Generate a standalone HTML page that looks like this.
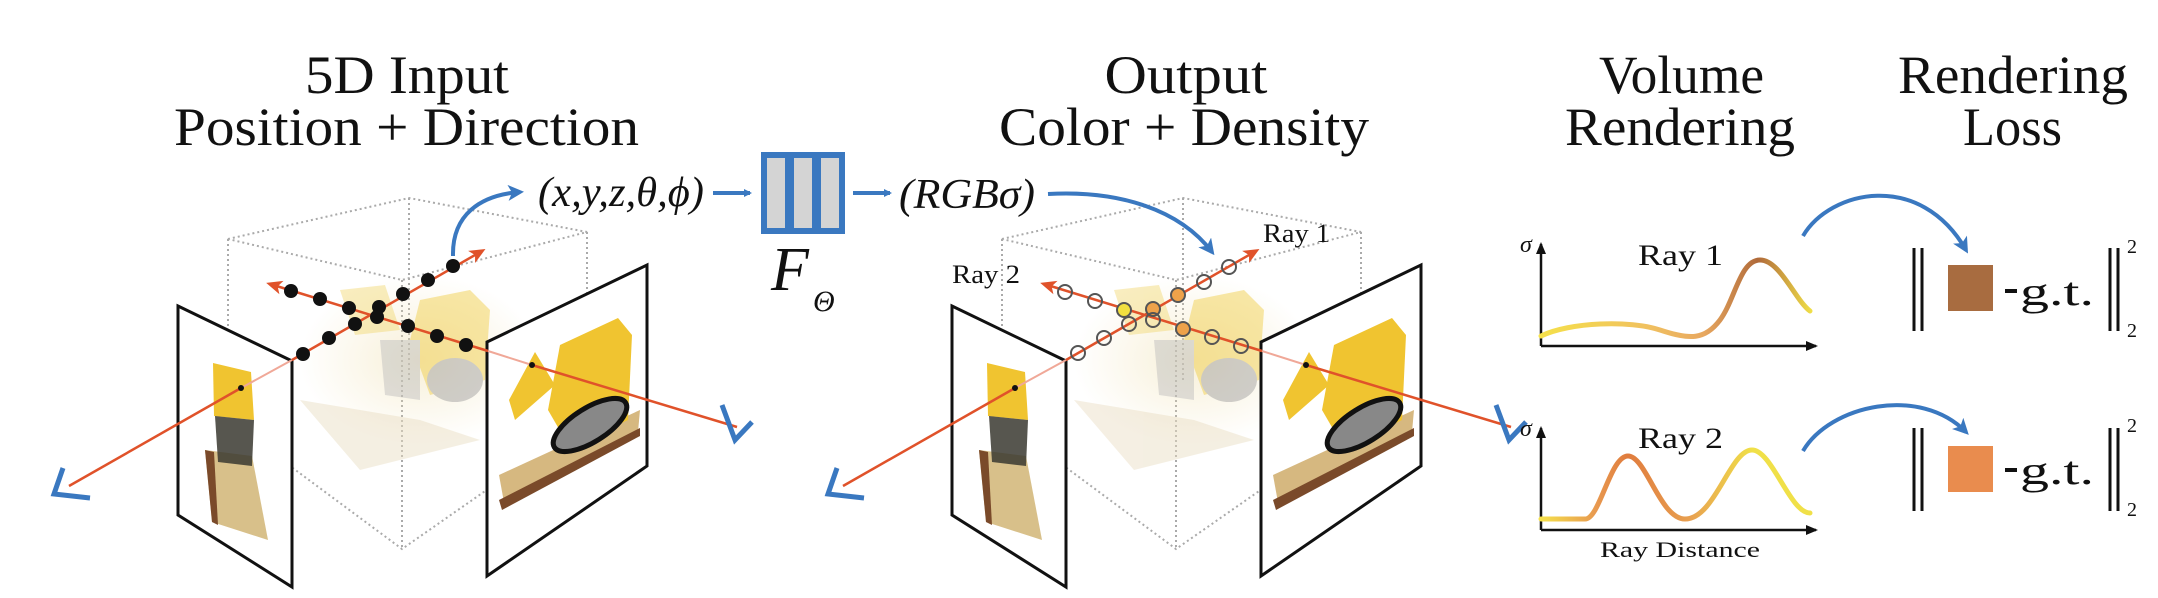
<!DOCTYPE html>
<html><head><meta charset="utf-8"><style>
html,body{margin:0;padding:0;background:#fff;}
svg{display:block;}
text{font-family:"Liberation Serif",serif;fill:#111;}
</style></head><body>
<svg width="2158" height="598" viewBox="0 0 2158 598" xmlns="http://www.w3.org/2000/svg">
<defs>
<marker id="ab" markerWidth="8" markerHeight="8" refX="6" refY="4" orient="auto" markerUnits="userSpaceOnUse" viewBox="0 0 8 8"><path d="M0,0 L8,4 L0,8 z" fill="#3a78c0"/></marker>
<marker id="ab2" markerWidth="16" markerHeight="16" refX="12" refY="8" orient="auto" markerUnits="userSpaceOnUse" viewBox="0 0 16 16"><path d="M0,0 L16,8 L0,16 L4,8 z" fill="#3a78c0"/></marker>
<marker id="ar" markerWidth="16" markerHeight="16" refX="12" refY="8" orient="auto" markerUnits="userSpaceOnUse" viewBox="0 0 16 16"><path d="M0,1 L16,8 L0,15 L4,8 z" fill="#e0522a"/></marker>
<marker id="ak" markerWidth="12" markerHeight="12" refX="10" refY="6" orient="auto" markerUnits="userSpaceOnUse" viewBox="0 0 12 12"><path d="M0,1 L12,6 L0,11 z" fill="#111"/></marker>
<linearGradient id="g1" gradientUnits="userSpaceOnUse" x1="1541" y1="0" x2="1812" y2="0">
<stop offset="0" stop-color="#f5e04a"/><stop offset="0.4" stop-color="#f0c060"/><stop offset="0.6" stop-color="#e8a860"/><stop offset="0.8" stop-color="#b06a3a"/><stop offset="1" stop-color="#f0e048"/></linearGradient>
<linearGradient id="g2" gradientUnits="userSpaceOnUse" x1="1541" y1="0" x2="1812" y2="0">
<stop offset="0" stop-color="#f5e04a"/><stop offset="0.2" stop-color="#e89a50"/><stop offset="0.32" stop-color="#e07c3e"/><stop offset="0.55" stop-color="#e8a050"/><stop offset="0.78" stop-color="#f0e048"/><stop offset="1" stop-color="#f0e048"/></linearGradient>
<radialGradient id="lego" cx="0.5" cy="0.5" r="0.5"><stop offset="0" stop-color="#f0e0b0" stop-opacity="0.5"/><stop offset="1" stop-color="#f0e0b0" stop-opacity="0"/></radialGradient>
</defs>

<!-- Titles -->
<text x="407" y="93" font-size="54" text-anchor="middle" textLength="204" lengthAdjust="spacingAndGlyphs">5D Input</text>
<text x="174" y="145" font-size="54" textLength="465" lengthAdjust="spacingAndGlyphs">Position + Direction</text>
<text x="1186" y="93" font-size="54" text-anchor="middle" textLength="163" lengthAdjust="spacingAndGlyphs">Output</text>
<text x="999" y="145" font-size="54" textLength="370" lengthAdjust="spacingAndGlyphs">Color + Density</text>
<text x="1599" y="93" font-size="54" textLength="165" lengthAdjust="spacingAndGlyphs">Volume</text>
<text x="1565" y="145" font-size="54" textLength="230" lengthAdjust="spacingAndGlyphs">Rendering</text>
<text x="1898" y="93" font-size="54" textLength="230" lengthAdjust="spacingAndGlyphs">Rendering</text>
<text x="1963" y="145" font-size="54" textLength="99" lengthAdjust="spacingAndGlyphs">Loss</text>

<!-- (x,y,z,θ,φ) -->
<text x="538" y="206" font-size="42" font-style="italic" textLength="166" lengthAdjust="spacingAndGlyphs">(x,y,z,θ,ϕ)</text>
<line x1="713" y1="193" x2="750" y2="193" stroke="#3a78c0" stroke-width="4" marker-end="url(#ab)"/>
<rect x="761" y="152" width="84" height="82" fill="#3a78c0"/>
<rect x="767" y="158" width="18" height="70" fill="#d4d4d4"/>
<rect x="794" y="158" width="18" height="70" fill="#d4d4d4"/>
<rect x="821" y="158" width="18" height="70" fill="#d4d4d4"/>
<line x1="853" y1="193" x2="890" y2="193" stroke="#3a78c0" stroke-width="4" marker-end="url(#ab)"/>
<text x="771" y="290" font-size="62" font-style="italic">F</text>
<text x="813" y="311" font-size="30" font-style="italic">Θ</text>
<text x="899" y="208" font-size="42" font-style="italic" textLength="136" lengthAdjust="spacingAndGlyphs">(RGBσ)</text>

<!-- ===== LEFT SCENE ===== -->
<g id="scene">
<g stroke="#aaa" stroke-width="2" stroke-dasharray="2,3" fill="none">
<path d="M228,239 L409,198 L587,232 L402,280 Z"/>
<path d="M228,239 L228,420 M409,198 L409,380 M587,232 L587,420 M402,280 L402,549"/>
<path d="M228,420 L402,549 L587,420"/>
</g>
<ellipse cx="420" cy="360" rx="120" ry="85" fill="url(#lego)"/>
<g opacity="0.45">
<path d="M340,290 L385,285 L400,330 L355,335 Z" fill="#f2d870"/>
<path d="M420,300 L470,290 L490,310 L485,380 L430,395 L410,340 Z" fill="#f0cc40"/>
<ellipse cx="455" cy="380" rx="28" ry="22" fill="#999"/>
<path d="M380,340 L420,340 L420,400 L385,395 Z" fill="#bbb"/>
<path d="M300,400 L420,420 L480,440 L360,470 Z" fill="#e8dcc0"/>
</g>
<!-- left image plane -->
<path d="M178,306 L292,361 L292,587 L178,515 Z" fill="#fff" stroke="#111" stroke-width="3"/>
<path d="M205,450 L252,456 L268,540 L212,522 Z" fill="#d8c08a"/>
<path d="M205,450 L214,452 L218,525 L212,522 Z" fill="#7a4a2a"/>
<path d="M213,363 L251,372 L254,420 L214,416 Z" fill="#f0c430"/>
<path d="M215,416 L254,420 L252,466 L218,462 Z" fill="#3a3830" opacity="0.85"/>
<!-- right image plane -->
<path d="M487,342 L647,265 L647,466 L487,576 Z" fill="#fff" stroke="#111" stroke-width="3"/>
<path d="M499,475 L640,410 L638,432 L505,508 Z" fill="#d6b880"/>
<path d="M499,500 L640,428 L640,436 L502,510 Z" fill="#7a4a2a"/>
<path d="M509,400 L535,352 L555,385 L515,420 Z" fill="#f0c430"/>
<path d="M560,345 L618,318 L632,335 L628,420 L570,448 L548,410 Z" fill="#f0c430"/>
<ellipse cx="590" cy="425" rx="42" ry="17" transform="rotate(-32 590 425)" fill="#888" stroke="#111" stroke-width="5"/>
<!-- rays -->
<line x1="69" y1="486" x2="241" y2="388" stroke="#e0522a" stroke-width="2.5"/>
<line x1="241" y1="388" x2="292" y2="360" stroke="#f0a898" stroke-width="2"/>
<line x1="292" y1="360" x2="482" y2="251" stroke="#e0522a" stroke-width="2.5" marker-end="url(#ar)"/>
<line x1="737" y1="427" x2="532" y2="365" stroke="#e0522a" stroke-width="2.5"/>
<line x1="532" y1="365" x2="488" y2="351" stroke="#f0a898" stroke-width="2"/>
<line x1="488" y1="351" x2="270" y2="284" stroke="#e0522a" stroke-width="2.5" marker-end="url(#ar)"/>
<circle cx="241" cy="388" r="3" fill="#111"/><circle cx="532" cy="365" r="3" fill="#111"/>
<!-- cameras -->
<path d="M63,468 L54,494 L90,498" fill="none" stroke="#3a78c0" stroke-width="5" stroke-linejoin="miter"/>
<path d="M722,405 L735,440 L752,422" fill="none" stroke="#3a78c0" stroke-width="5"/>
</g>
<g fill="#111">
<circle cx="303" cy="354" r="7"/><circle cx="329" cy="338" r="7"/><circle cx="355" cy="324" r="7"/><circle cx="379" cy="307" r="7"/><circle cx="403" cy="294" r="7"/><circle cx="428" cy="280" r="7"/><circle cx="453" cy="266" r="7"/>
<circle cx="291" cy="291" r="7"/><circle cx="320" cy="299" r="7"/><circle cx="349" cy="308" r="7"/><circle cx="377" cy="317" r="7"/><circle cx="408" cy="326" r="7"/><circle cx="437" cy="336" r="7"/><circle cx="466" cy="345" r="7"/>
</g>
<path d="M453,256 C452,215 480,195 520,192" fill="none" stroke="#3a78c0" stroke-width="4" marker-end="url(#ab2)"/>

<!-- ===== MIDDLE SCENE ===== -->
<use href="#scene" transform="translate(774,0)"/>
<g stroke="#555" stroke-width="2" fill="none">
<circle cx="1078" cy="353" r="7"/><circle cx="1104" cy="338" r="7"/><circle cx="1129" cy="324" r="7"/><circle cx="1153" cy="309" r="7" fill="#eea24a"/><circle cx="1178" cy="295" r="7" fill="#eea24a"/><circle cx="1204" cy="282" r="7"/><circle cx="1229" cy="267" r="7"/>
<circle cx="1065" cy="292" r="7"/><circle cx="1095" cy="301" r="7"/><circle cx="1124" cy="310" r="7" fill="#f2e040"/><circle cx="1153" cy="320" r="7"/><circle cx="1183" cy="329" r="7" fill="#eea24a"/><circle cx="1212" cy="337" r="7"/><circle cx="1241" cy="346" r="7"/>
</g>
<text x="1263" y="242" font-size="26" textLength="67" lengthAdjust="spacingAndGlyphs">Ray 1</text>
<text x="952" y="283" font-size="26" textLength="68" lengthAdjust="spacingAndGlyphs">Ray 2</text>
<path d="M1048,194 C1120,190 1180,210 1212,252" fill="none" stroke="#3a78c0" stroke-width="4" marker-end="url(#ab2)"/>

<!-- ===== PLOTS ===== -->
<g stroke="#111" stroke-width="2.5" fill="none">
<path d="M1541,346 L1541,244" marker-end="url(#ak)"/>
<path d="M1541,346 L1816,346" marker-end="url(#ak)"/>
<path d="M1541,530 L1541,428" marker-end="url(#ak)"/>
<path d="M1541,530 L1816,530" marker-end="url(#ak)"/>
</g>
<text x="1520" y="252" font-size="24" font-style="italic">σ</text>
<text x="1520" y="436" font-size="24" font-style="italic">σ</text>
<text x="1638" y="265" font-size="30" textLength="85" lengthAdjust="spacingAndGlyphs">Ray 1</text>
<text x="1638" y="448" font-size="30" textLength="85" lengthAdjust="spacingAndGlyphs">Ray 2</text>
<text x="1680" y="557" font-size="22" text-anchor="middle" textLength="160" lengthAdjust="spacingAndGlyphs">Ray Distance</text>
<path d="M1541,336 C1570,322 1630,320 1660,330 C1690,340 1705,340 1720,320 C1735,300 1740,260 1760,260 C1780,260 1795,300 1810,311" fill="none" stroke="url(#g1)" stroke-width="5" stroke-linecap="round"/>
<path d="M1541,519 L1585,519 C1600,519 1610,456 1628,456 C1646,456 1660,519 1685,519 C1715,519 1730,450 1752,450 C1772,450 1790,513 1810,513" fill="none" stroke="url(#g2)" stroke-width="5" stroke-linecap="round"/>

<!-- ===== LOSS ===== -->
<path d="M1803,236 C1830,190 1920,170 1966,250" fill="none" stroke="#3a78c0" stroke-width="4" marker-end="url(#ab2)"/>
<path d="M1803,451 C1830,405 1920,385 1966,432" fill="none" stroke="#3a78c0" stroke-width="4" marker-end="url(#ab2)"/>
<g stroke="#111" stroke-width="3">
<line x1="1914" y1="248" x2="1914" y2="331"/><line x1="1922" y1="248" x2="1922" y2="331"/>
<line x1="2110" y1="248" x2="2110" y2="331"/><line x1="2118" y1="248" x2="2118" y2="331"/>
<line x1="1914" y1="428" x2="1914" y2="511"/><line x1="1922" y1="428" x2="1922" y2="511"/>
<line x1="2110" y1="428" x2="2110" y2="511"/><line x1="2118" y1="428" x2="2118" y2="511"/>
</g>
<rect x="1948" y="265" width="45" height="46" fill="#a86c40"/>
<rect x="1948" y="446" width="45" height="46" fill="#e98c4e"/>
<rect x="2005" y="289" width="12" height="4" fill="#111"/>
<rect x="2005" y="468" width="12" height="4" fill="#111"/>
<text x="2020" y="305" font-size="40" textLength="74" lengthAdjust="spacingAndGlyphs">g.t.</text>
<text x="2020" y="484" font-size="40" textLength="74" lengthAdjust="spacingAndGlyphs">g.t.</text>
<text x="2127" y="253" font-size="20">2</text><text x="2127" y="337" font-size="20">2</text>
<text x="2127" y="432" font-size="20">2</text><text x="2127" y="516" font-size="20">2</text>
</svg>
</body></html>
